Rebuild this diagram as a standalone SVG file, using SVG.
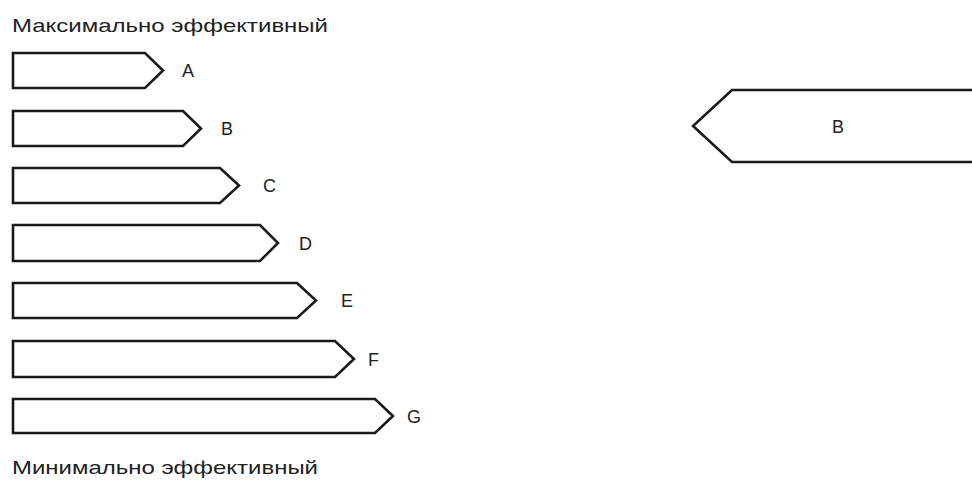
<svg xmlns="http://www.w3.org/2000/svg" width="972" height="480" viewBox="0 0 972 480">
<style>
.sh{fill:#fff;stroke:#1a1a1a;stroke-width:2.6;stroke-linejoin:miter}
.lb{font-family:"Liberation Sans",Arial,sans-serif;font-size:18px;fill:#222}
.tt{font-family:"Liberation Sans",Arial,sans-serif;font-size:19px;fill:#222}
</style>
<rect width="972" height="480" fill="#fff"/>
<text class="tt" x="12" y="32" textLength="316" lengthAdjust="spacingAndGlyphs">Максимально эффективный</text>
<g id="A"><polygon class="sh" points="13,53 145,53 163,70.5 145,88 13,88"/><text class="lb" x="182" y="77">A</text></g>
<g id="B"><polygon class="sh" points="13,111 183,111 201,128.5 183,146 13,146"/><text class="lb" x="221" y="135">B</text></g>
<g id="C"><polygon class="sh" points="13,168 220,168 239,185.5 220,203 13,203"/><text class="lb" x="263" y="192">C</text></g>
<g id="D"><polygon class="sh" points="13,225 260,225 278,243 260,261 13,261"/><text class="lb" x="299" y="250">D</text></g>
<g id="E"><polygon class="sh" points="13,283 297,283 316,300.5 297,318 13,318"/><text class="lb" x="341" y="307">E</text></g>
<g id="F"><polygon class="sh" points="13,341 335,341 354,359 335,377 13,377"/><text class="lb" x="368" y="366">F</text></g>
<g id="G"><polygon class="sh" points="13,399 375,399 393,416 375,433 13,433"/><text class="lb" x="407" y="423">G</text></g>
<text class="tt" x="12" y="474" textLength="306" lengthAdjust="spacingAndGlyphs">Минимально эффективный</text>
<g id="Bbig"><polygon class="sh" points="980,90 732,90 693,126 732,162 980,162"/><text class="lb" x="838" y="133" text-anchor="middle">B</text></g>
<g id="connectors"></g>
</svg>
